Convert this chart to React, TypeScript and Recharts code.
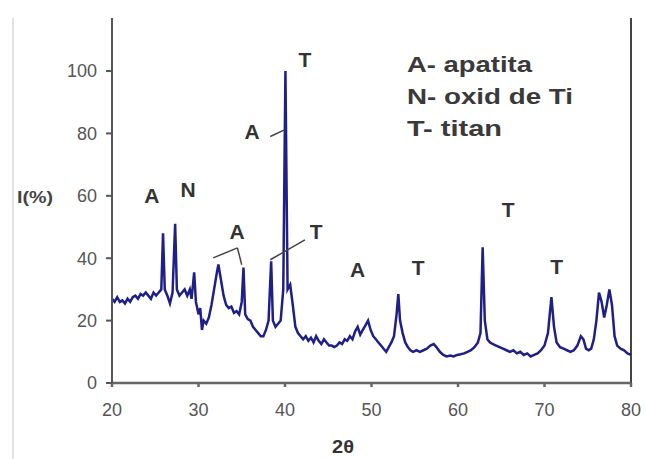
import React from 'react';
import {
  LineChart,
  Line,
  XAxis,
  YAxis,
  ReferenceLine,
  ReferenceDot,
  Customized
} from 'recharts';

// 2-theta positions (deg)
const theta = [
  20.0, 20.3, 20.6, 20.9, 21.2, 21.5, 21.8, 22.1, 22.4, 22.7, 23.0, 23.3, 23.6, 23.9, 24.2, 24.5, 24.8, 25.1, 25.4, 25.7,
  25.9, 26.1, 26.4, 26.7, 27.0, 27.3, 27.5, 27.8, 28.1, 28.4, 28.7, 29.0, 29.2, 29.5, 29.7, 30.0, 30.2, 30.4, 30.6, 30.9,
  31.2, 31.5, 31.8, 32.1, 32.3, 32.6, 32.9, 33.2, 33.5, 33.8, 34.1, 34.4, 34.7, 35.0, 35.2, 35.4, 35.7, 36.0, 36.3, 36.6,
  36.9, 37.2, 37.5, 37.8, 38.1, 38.4, 38.6, 38.9, 39.2, 39.5, 39.8, 40.05, 40.3, 40.6, 40.9, 41.2, 41.5, 41.8, 42.1, 42.4,
  42.7, 43.0, 43.3, 43.6, 43.9, 44.2, 44.5, 44.8, 45.1, 45.4, 45.7, 46.0, 46.3, 46.6, 46.9, 47.2, 47.5, 47.8, 48.1, 48.4,
  48.7, 49.0, 49.3, 49.6, 49.9, 50.2, 50.5, 50.8, 51.1, 51.4, 51.7, 52.0, 52.3, 52.6, 52.9, 53.1, 53.3, 53.6, 53.9, 54.2,
  54.5, 54.8, 55.2, 55.6, 56.0, 56.4, 56.8, 57.2, 57.5, 57.9, 58.3, 58.7, 59.1, 59.5, 59.9, 60.3, 60.7, 61.1, 61.5, 61.9,
  62.3, 62.6, 62.85, 63.1, 63.4, 63.7, 64.0, 64.4, 64.8, 65.2, 65.6, 66.0, 66.4, 66.8, 67.2, 67.6, 68.0, 68.4, 68.8, 69.2,
  69.6, 70.0, 70.4, 70.8, 71.1, 71.4, 71.8, 72.2, 72.6, 73.0, 73.4, 73.8, 74.2, 74.5, 74.8, 75.1, 75.4, 75.7, 76.0, 76.3,
  76.6, 76.9, 77.2, 77.5, 77.8, 78.1, 78.4, 78.8, 79.2, 79.6, 80.0
];

// relative intensity I(%)
const intensity = [
  27, 26, 27.5, 26, 26.5, 25.5, 27, 26, 27.5, 28, 27, 28.5, 28, 29, 28, 27, 29, 28, 29, 30,
  48, 30, 28, 25.5, 29, 51, 30, 28, 29, 30, 28, 30, 27, 35.5, 26, 22, 24, 17, 20, 19,
  21, 25, 30, 35, 38, 33, 28, 25, 24, 24.5, 22.5, 23, 22, 26, 37, 22, 20.5, 20, 18, 17,
  16, 15, 15, 17, 20, 39, 20, 18, 19, 20, 30, 100, 30, 31.5, 25, 18, 16, 15, 14, 15,
  13.5, 14.5, 13, 15, 13.5, 12.5, 14, 13, 12, 12, 11.5, 12, 13, 12.5, 14, 13.5, 15, 14, 16.5, 18,
  15.5, 17, 18.5, 20, 17, 15, 14, 13, 12, 11, 10, 11.5, 13, 15, 22, 28.5, 20, 16, 13, 11.5,
  10.5, 10, 10.5, 10, 10.5, 11, 12, 12.5, 11.5, 10, 9, 8.5, 8.8, 8.5, 9, 9.2, 9.5, 10, 10.5, 11.5,
  13, 16, 43.5, 20, 14, 13, 12.5, 12, 11.5, 11, 10.5, 10, 10.5, 9.5, 10, 9, 9.5, 8.5, 9, 9.5,
  10.5, 12, 16, 27.5, 18, 13, 11.5, 11, 10.5, 10, 10.5, 12, 15, 14, 11, 10.5, 11, 14, 20, 29,
  26, 21, 25, 30, 25, 15, 12, 11, 10.5, 9.5, 9
];

const xTicks = [20, 30, 40, 50, 60, 70, 80];
const yTicks = [0, 20, 40, 60, 80, 100];

// phase letters placed at (2theta, I)
const peakLetters = ['A', 'N', 'A', 'T', 'A', 'T', 'A', 'T', 'T', 'T'];
const letterTheta = [24.6, 28.8, 34.45, 43.6, 36.2, 42.3, 48.4, 55.4, 65.8, 71.4];
const letterI = [60, 62, 48.5, 48.5, 80.6, 103.7, 36.3, 36.9, 55.5, 37.2];

// leader lines [theta1, I1, theta2, I2]
const leaders = [
  [31.7, 40.1, 34.5, 43.3],
  [34.5, 43.3, 35.0, 37.9],
  [38.3, 39.5, 42.3, 45.9],
  [38.3, 79.0, 40.0, 81.2]
];

const legendLines = ['A- apatita', 'N- oxid de Ti', 'T- titan'];

const data = theta.map((t, i) => ({ theta: t, I: intensity[i] }));

const FONT = '"Liberation Sans", Arial, sans-serif';

const Extras = () => (
  <g>
    <line x1={13} y1={18} x2={13} y2={459} stroke="#e2e2e2" strokeWidth={2} />
    <text x={17} y={203} fontFamily={FONT} fontSize={16} fontWeight="bold" fill="#444"
      textLength={36} lengthAdjust="spacingAndGlyphs">I(%)</text>
    <text x={332} y={453} fontFamily={FONT} fontSize={19} fontWeight="bold" fill="#333"
      textLength={22} lengthAdjust="spacingAndGlyphs">2θ</text>
    {legendLines.map((s, i) => (
      <text key={s} x={407} y={72 + i * 32} fontFamily={FONT} fontSize={22} fontWeight="bold" fill="#3a3a3a"
        textLength={[125, 166, 95][i]} lengthAdjust="spacingAndGlyphs">{s}</text>
    ))}
  </g>
);

export default function App() {
  return (
    <div style={{ position: 'fixed', left: 0, top: 0, width: 646, height: 459, background: '#fff' }}>
      <LineChart width={646} height={459} data={data} margin={{ top: 18, right: 15, bottom: 0, left: 0 }}>
        <XAxis
          type="number"
          dataKey="theta"
          domain={[20, 80]}
          ticks={xTicks}
          height={76}
          stroke="#666"
          strokeWidth={2.5}
          tickSize={4}
          tickMargin={16}
          tick={{ fill: '#555', fontSize: 18, fontFamily: FONT }}
        />
        <YAxis
          type="number"
          domain={[0, 117]}
          ticks={yTicks}
          width={112}
          stroke="#555"
          strokeWidth={2}
          tickSize={6}
          tickMargin={9}
          tick={{ fill: '#555', fontSize: 18, fontFamily: FONT }}
        />
        <ReferenceLine x={80} stroke="#444" strokeWidth={2} />
        <Line
          type="linear"
          dataKey="I"
          stroke="#1f1f88"
          strokeWidth={2.5}
          dot={false}
          isAnimationActive={false}
        />
        {leaders.map((s, i) => (
          <ReferenceLine key={i} segment={[{ x: s[0], y: s[1] }, { x: s[2], y: s[3] }]} stroke="#444" strokeWidth={1.5} />
        ))}
        {peakLetters.map((l, i) => (
          <ReferenceDot
            key={i}
            x={letterTheta[i]}
            y={letterI[i]}
            r={0}
            shape={(p: any) => (
              <text x={p.cx} y={p.cy} textAnchor="middle" dominantBaseline="central"
                fontFamily={FONT} fontSize={21} fontWeight="bold" fill="#333">{l}</text>
            )}
          />
        ))}
        <Customized component={<Extras />} />
      </LineChart>
    </div>
  );
}
